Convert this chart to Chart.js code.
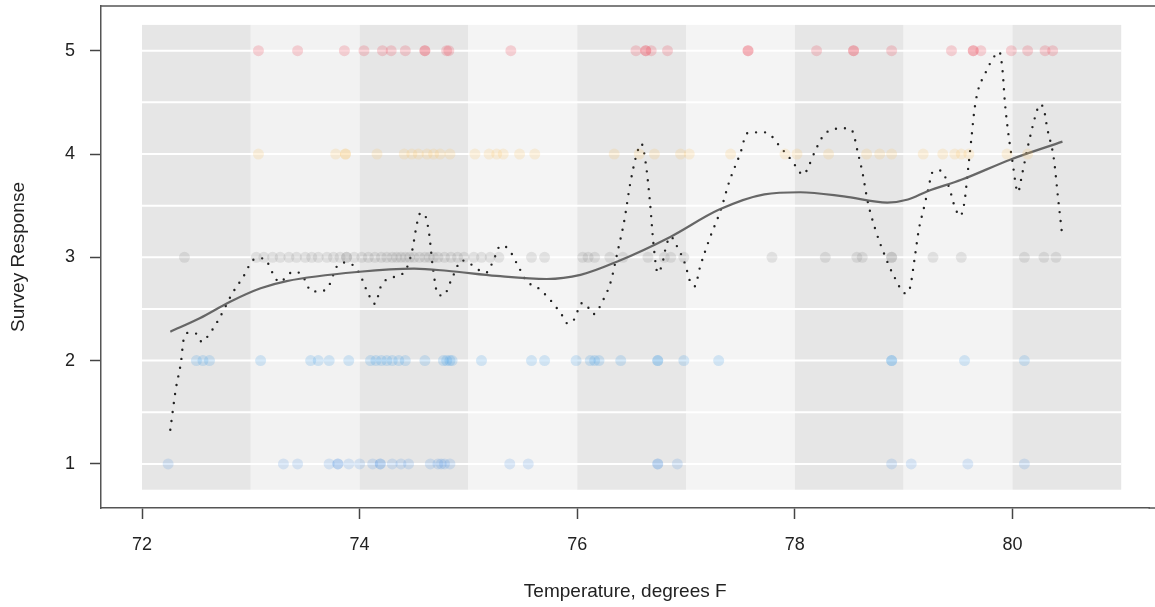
<!DOCTYPE html>
<html>
<head>
<meta charset="utf-8">
<script src="https://cdn.jsdelivr.net/npm/chart.js@4"></script>
<style>
  html, body { margin: 0; padding: 0; background: #fff; }
  #wrap { width: 1155px; height: 607px; }
</style>
</head>
<body>
<div id="wrap"><canvas id="chart" width="1155" height="607"></canvas></div>
<script>
// survey responses by temperature (degrees F), one array per response level
const resp5 = [73.07, 73.43, 73.86, 74.04, 74.21, 74.29, 74.42, 74.6, 74.6, 74.8, 74.82, 75.39, 76.54, 76.63, 76.63, 76.68, 76.83, 77.57, 77.57, 78.2, 78.54, 78.54, 78.89, 79.44, 79.64, 79.64, 79.71, 79.99, 80.14, 80.3, 80.37];
const resp4 = [73.07, 73.78, 73.87, 73.87, 74.16, 74.41, 74.48, 74.54, 74.62, 74.68, 74.74, 74.83, 75.06, 75.19, 75.26, 75.32, 75.47, 75.61, 76.34, 76.57, 76.71, 76.95, 77.03, 77.41, 77.91, 78.02, 78.31, 78.66, 78.78, 78.89, 79.18, 79.36, 79.47, 79.53, 79.6, 79.95, 80.14];
const resp3 = [72.39, 73.05, 73.12, 73.2, 73.27, 73.35, 73.42, 73.5, 73.56, 73.62, 73.7, 73.76, 73.82, 73.88, 73.88, 73.95, 74.02, 74.08, 74.14, 74.2, 74.25, 74.3, 74.34, 74.38, 74.42, 74.46, 74.5, 74.55, 74.6, 74.64, 74.68, 74.72, 74.78, 74.84, 74.9, 74.96, 75.05, 75.12, 75.2, 75.28, 75.58, 75.7, 76.05, 76.1, 76.16, 76.3, 76.42, 76.65, 76.8, 76.86, 76.98, 77.79, 78.28, 78.57, 78.62, 78.89, 78.89, 79.27, 79.53, 80.11, 80.29, 80.4];
const resp2 = [72.5, 72.56, 72.62, 73.09, 73.55, 73.62, 73.72, 73.9, 74.1, 74.15, 74.2, 74.25, 74.3, 74.36, 74.42, 74.6, 74.77, 74.8, 74.83, 74.85, 75.12, 75.58, 75.7, 75.99, 76.12, 76.16, 76.2, 76.4, 76.74, 76.74, 76.98, 77.3, 78.89, 78.89, 79.56, 80.11];
const resp1 = [72.24, 73.3, 73.43, 73.72, 73.8, 73.8, 73.9, 74.0, 74.12, 74.19, 74.19, 74.3, 74.38, 74.45, 74.65, 74.72, 74.75, 74.78, 74.83, 75.38, 75.55, 76.74, 76.74, 76.92, 78.89, 79.07, 79.59, 80.11];

// loess-like smooth trend
const smoothT = [72.26, 72.53, 72.81, 73.09, 73.33, 74.0, 74.5, 74.8, 75.26, 75.72, 76.03, 76.37, 76.86, 77.3, 77.72, 78.05, 78.45, 78.85, 79.04, 79.22, 79.53, 79.99, 80.46];
const smoothV = [2.28, 2.41, 2.57, 2.70, 2.77, 2.86, 2.89, 2.87, 2.82, 2.79, 2.83, 2.96, 3.20, 3.46, 3.61, 3.63, 3.59, 3.53, 3.56, 3.64, 3.75, 3.95, 4.12];

// wiggly (undersmoothed) trend, dotted
const dotT = [72.26, 72.31, 72.36, 72.38, 72.43, 72.5, 72.55, 72.6, 72.7, 72.83, 72.93, 73.03, 73.12, 73.21, 73.26, 73.39, 73.47, 73.56, 73.64, 73.72, 73.79, 73.88, 73.99, 74.07, 74.14, 74.2, 74.34, 74.42, 74.48, 74.53, 74.56, 74.6, 74.64, 74.67, 74.72, 74.77, 74.85, 74.94, 75.01, 75.16, 75.25, 75.29, 75.36, 75.45, 75.54, 75.62, 75.75, 75.86, 75.91, 75.96, 76.05, 76.09, 76.15, 76.24, 76.31, 76.37, 76.43, 76.49, 76.55, 76.59, 76.63, 76.67, 76.7, 76.74, 76.78, 76.82, 76.86, 76.91, 76.99, 77.04, 77.08, 77.13, 77.22, 77.32, 77.4, 77.5, 77.56, 77.64, 77.73, 77.79, 77.85, 77.97, 78.08, 78.13, 78.2, 78.29, 78.47, 78.53, 78.58, 78.62, 78.67, 78.74, 78.83, 78.91, 79.02, 79.06, 79.1, 79.14, 79.18, 79.22, 79.27, 79.34, 79.42, 79.47, 79.52, 79.56, 79.59, 79.62, 79.65, 79.68, 79.75, 79.83, 79.88, 79.91, 79.93, 79.96, 80.0, 80.05, 80.09, 80.15, 80.22, 80.25, 80.29, 80.32, 80.38, 80.42, 80.46];
const dotV = [1.33, 1.72, 2.0, 2.19, 2.27, 2.26, 2.18, 2.23, 2.39, 2.65, 2.81, 2.98, 2.99, 2.83, 2.76, 2.86, 2.83, 2.67, 2.67, 2.73, 2.91, 2.95, 2.86, 2.67, 2.55, 2.73, 2.82, 2.87, 3.05, 3.34, 3.43, 3.41, 3.22, 2.93, 2.64, 2.63, 2.8, 2.97, 2.94, 2.85, 3.02, 3.11, 3.09, 2.93, 2.76, 2.72, 2.59, 2.44, 2.36, 2.38, 2.56, 2.53, 2.45, 2.59, 2.77, 3.05, 3.34, 3.73, 4.01, 4.1, 3.91, 3.52, 3.14, 2.85, 2.93, 3.12, 3.2, 3.12, 2.94, 2.76, 2.72, 2.91, 3.19, 3.46, 3.74, 4.01, 4.2, 4.21, 4.21, 4.17, 4.09, 3.94, 3.8, 3.89, 4.06, 4.21, 4.25, 4.22, 4.01, 3.83, 3.54, 3.27, 3.01, 2.82, 2.65, 2.71, 2.98, 3.27, 3.45, 3.63, 3.83, 3.84, 3.67, 3.49, 3.4, 3.54, 3.83, 4.12, 4.42, 4.6, 4.78, 4.94, 4.99, 4.8, 4.51, 4.22, 3.93, 3.63, 3.81, 4.11, 4.4, 4.48, 4.43, 4.25, 3.96, 3.57, 3.19];

// axes and background bands
const xTicks = [72, 74, 76, 78, 80];
const yTicks = [1, 2, 3, 4, 5];
const bandStarts = [72, 73, 74, 75, 76, 77, 78, 79, 80];
const gridLevels = [1, 1.5, 2, 2.5, 3, 3.5, 4, 4.5, 5];

const bandShades = ['#e6e6e6', '#f2f2f2', '#e6e6e6', '#f4f4f4', '#e7e7e7', '#f4f4f4', '#e6e6e6', '#f3f3f3', '#e6e6e6'];

const pts = (arr, level) => arr.map(t => ({ x: t, y: level }));
const line = (ts, vs) => ts.map((t, i) => ({ x: t, y: vs[i] }));

const bandPlugin = {
    id: 'bands',
    beforeDatasetsDraw(chart) {
        const { ctx, scales: { x, y } } = chart;
        const top = y.getPixelForValue(5.25);
        const bot = y.getPixelForValue(0.75);
        ctx.save();
        bandStarts.forEach((t, i) => {
            const l = x.getPixelForValue(t);
            const r = x.getPixelForValue(t + 1);
            ctx.fillStyle = bandShades[i];
            ctx.fillRect(l, top, r - l, bot - top);
        });
        ctx.strokeStyle = '#ffffff';
        ctx.lineWidth = 2;
        const l = x.getPixelForValue(bandStarts[0]);
        const r = x.getPixelForValue(bandStarts[bandStarts.length - 1] + 1);
        gridLevels.forEach(v => {
            const py = y.getPixelForValue(v);
            ctx.beginPath();
            ctx.moveTo(l, py);
            ctx.lineTo(r, py);
            ctx.stroke();
        });
        ctx.restore();
    },
    afterDraw(chart) {
        // frame: top line, and both lines run on to the canvas edge
        const { ctx, chartArea } = chart;
        ctx.save();
        ctx.strokeStyle = '#555';
        ctx.lineWidth = 1.5;
        ctx.beginPath();
        ctx.moveTo(chartArea.left, chartArea.top);
        ctx.lineTo(chart.width, chartArea.top);
        ctx.moveTo(chartArea.right - 1, chartArea.bottom);
        ctx.lineTo(chart.width, chartArea.bottom);
        ctx.stroke();
        ctx.restore();
    }
};

const noPad = axis => {
    axis.paddingTop = 0;
    axis.paddingBottom = 0;
    axis.paddingLeft = 0;
    axis.paddingRight = 0;
};

const dot = (color) => ({
    backgroundColor: color,
    borderWidth: 0,
    pointRadius: 5.5,
    pointHoverRadius: 5.5
});

const ctx = document.getElementById('chart').getContext('2d');
const chart = new Chart(ctx, {
    type: 'scatter',
    data: {
        datasets: [
            { data: pts(resp3, 3), ...dot('rgba(110,110,110,0.15)') },
            { data: pts(resp4, 4), ...dot('rgba(250,195,100,0.2)') },
            { data: pts(resp5, 5), ...dot('rgba(235,70,85,0.22)') },
            { data: pts(resp2, 2), ...dot('rgba(60,155,230,0.2)') },
            { data: pts(resp1, 1), ...dot('rgba(70,145,225,0.18)') },
            {
                data: line(smoothT, smoothV),
                showLine: true,
                pointRadius: 0,
                borderColor: 'rgba(95,95,95,0.95)',
                borderWidth: 2.2,
                cubicInterpolationMode: 'monotone'
            },
            {
                data: line(dotT, dotV),
                showLine: true,
                pointRadius: 0,
                borderColor: '#222',
                borderWidth: 2.4,
                borderDash: [0, 9],
                borderCapStyle: 'round',
                cubicInterpolationMode: 'monotone'
            }
        ]
    },
    options: {
        responsive: false,
        animation: false,
        events: [],
        layout: { padding: { top: 6, right: 0, left: 0, bottom: 0 } },
        plugins: { legend: { display: false }, tooltip: { enabled: false } },
        scales: {
            x: {
                type: 'linear',
                min: 71.623,
                max: 81.26,
                afterBuildTicks: axis => { axis.ticks = xTicks.map(v => ({ value: v })); },
                afterFit: axis => { axis.height = 99; noPad(axis); },
                grid: { drawOnChartArea: false, drawTicks: true, tickLength: 11, tickColor: '#444', tickWidth: 1.5 },
                border: { display: true, color: '#555', width: 1.5 },
                ticks: { font: { family: 'Liberation Sans, Arial', size: 18 }, color: '#222', padding: 15, maxRotation: 0 },
                title: { display: true, text: 'Temperature, degrees F', font: { family: 'Liberation Sans, Arial', size: 19 }, color: '#222', padding: { top: 0, bottom: 4 } }
            },
            y: {
                type: 'linear',
                min: 0.573,
                max: 5.433,
                afterBuildTicks: axis => { axis.ticks = yTicks.map(v => ({ value: v })); },
                afterFit: axis => { axis.width = 101; noPad(axis); },
                grid: { drawOnChartArea: false, drawTicks: true, tickLength: 11, tickColor: '#444', tickWidth: 1.5 },
                border: { display: true, color: '#555', width: 1.5 },
                ticks: { font: { family: 'Liberation Sans, Arial', size: 18 }, color: '#222', padding: 15 },
                title: { display: true, text: 'Survey Response', font: { family: 'Liberation Sans, Arial', size: 19 }, color: '#222', padding: { top: 7, bottom: 0 } }
            }
        }
    },
    plugins: [bandPlugin]
});
</script>
</body>
</html>
